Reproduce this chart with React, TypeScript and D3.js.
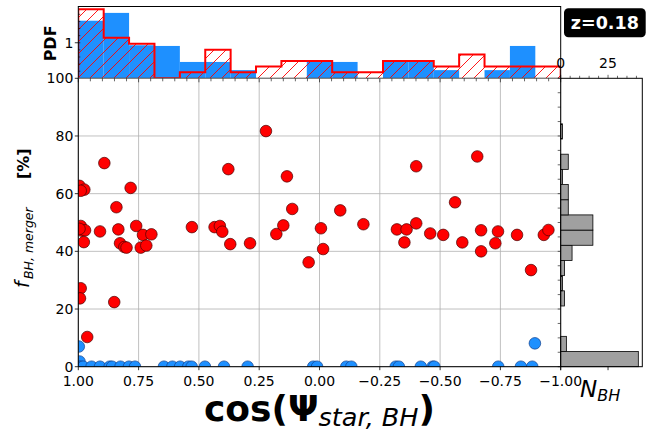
import React from 'react';
import * as d3 from 'd3';

const W = 648;
const H = 432;
const FONT = '"DejaVu Sans", sans-serif';

// top panel: PDF of cos(psi), 19 bins running from cos=1 down to cos=-1
const nBins = 19;
const blueDensity = [1.62, 1.84, 0.93, 0.91, 0.46, 0.46, 0.23, 0, 0, 0.47, 0.46, 0, 0.47, 0.47, 0.23, 0, 0.23, 0.91, 0];
const redDensity = [1.94, 1.14, 0.97, 0, 0.17, 0.8, 0.17, 0.33, 0.49, 0.49, 0.17, 0.17, 0.49, 0.49, 0.33, 0.67, 0.33, 0.33, 0.33];

// right panel: N_BH per f_merger bin (19 bins of 100/19 %, from 0 upwards)
const nbhCounts = [41, 3, 0, 0, 2, 1, 2, 6, 17, 17, 4, 4, 1, 4, 0, 1, 0, 0, 0];

// scatter: [cos(psi), f_BH,merger]
const redPoints: [number, number][] = [
  [0.995, 62.7], [0.975, 61.4], [0.99, 61.0], [0.783, 62.0], [0.892, 70.6],
  [0.378, 68.5], [0.135, 66.0], [0.222, 81.7], [0.842, 55.3], [0.113, 54.7],
  [0.99, 48.8], [0.986, 47.2], [0.972, 47.3], [0.995, 47.8], [0.91, 46.9],
  [0.834, 47.6], [0.76, 48.8], [0.977, 43.2], [0.827, 42.8], [0.809, 41.5],
  [0.8, 41.3], [0.732, 45.7], [0.697, 45.9], [0.741, 41.3], [0.718, 42.0],
  [0.529, 48.4], [0.435, 48.4], [0.413, 48.8], [0.403, 46.8], [0.37, 42.5],
  [0.288, 42.8], [0.179, 46.0], [0.15, 49.0], [0.045, 36.2], [0.99, 27.2],
  [0.993, 23.7], [0.851, 22.4], [0.963, 10.3], [-0.006, 48.0], [-0.015, 40.8],
  [-0.086, 54.2], [-0.182, 49.4], [-0.321, 47.6], [-0.361, 47.6], [-0.352, 43.1],
  [-0.401, 69.5], [-0.401, 49.7], [-0.459, 46.2], [-0.513, 45.7], [-0.562, 57.0],
  [-0.592, 43.1], [-0.654, 72.9], [-0.67, 47.3], [-0.67, 40.0], [-0.729, 42.8],
  [-0.74, 46.9], [-0.819, 45.7], [-0.877, 33.5], [-0.93, 45.7], [-0.949, 47.4],
];
const bluePoints: [number, number][] = [
  [0.998, 7.0], [0.995, 1.8], [-0.893, 8.1],
  [1.0, 0], [0.99, 0], [0.98, 0], [0.945, 0], [0.91, 0], [0.87, 0], [0.86, 0],
  [0.825, 0], [0.79, 0], [0.765, 0], [0.645, 0], [0.61, 0], [0.578, 0],
  [0.544, 0], [0.53, 0], [0.475, 0], [0.396, 0], [0.298, 0], [0.026, 0],
  [0.01, 0], [-0.111, 0], [-0.132, 0], [-0.316, 0], [-0.329, 0], [-0.42, 0],
  [-0.469, 0], [-0.476, 0], [-0.741, 0], [-0.835, 0], [-0.882, 0],
];

const xTicks = [1, 0.75, 0.5, 0.25, 0, -0.25, -0.5, -0.75, -1];
const yTicks = [0, 20, 40, 60, 80, 100];
const pdfTicks = [1];
const nbhTicks = [0, 25];

// panel boxes (px)
const main = { l: 78.3, r: 560.7, t: 78.3, b: 366.7 };
const topP = { t: 6.5, b: 78.3 };
const side = { l: 560.7, r: 642.3 };

const App: React.FC = () => {
  const x = d3.scaleLinear().domain([1, -1]).range([main.l, main.r]);
  const y = d3.scaleLinear().domain([0, 100]).range([main.b, main.t]);
  const yPdf = d3.scaleLinear().domain([0, 2.02]).range([topP.b, topP.t]);
  const xN = d3.scaleLinear().domain([0, 43.1]).range([side.l, side.r]);

  const edges = d3.range(nBins + 1).map(k => 1 - (2 * k) / nBins);
  const fEdges = d3.range(nBins + 1).map(k => (100 * k) / nBins);

  const stepPts: [number, number][] = [[edges[0], 0]];
  redDensity.forEach((v, k) => {
    stepPts.push([edges[k], v], [edges[k + 1], v]);
  });
  stepPts.push([edges[nBins], 0]);
  const stepLine = d3.line<[number, number]>().x(d => x(d[0])).y(d => yPdf(d[1]));
  const stepPath = stepLine(stepPts) || '';

  const fmt = d3.format('.2f');
  const minorX = d3.range(0, 41).map(i => 1 - i * 0.05);
  const minorY = d3.range(0, 21).map(i => i * 5);
  const minorN = d3.range(0, 9).map(i => i * 5);
  const minorPdf = d3.range(1, 10).map(i => i * 0.2);

  return (
    <svg width={W} height={H} style={{ position: 'absolute', left: 0, top: 0, background: '#fff' }} fontFamily={FONT}>
      <defs>
        <clipPath id="mainClip">
          <rect x={main.l} y={main.t} width={main.r - main.l} height={main.b - main.t} />
        </clipPath>
        <clipPath id="topClip">
          <rect x={main.l} y={topP.t} width={main.r - main.l} height={topP.b - topP.t} />
        </clipPath>
        <pattern id="hatch" patternUnits="userSpaceOnUse" width={12} height={12}>
          <path d="M-3,3 L3,-3 M0,12 L12,0 M9,15 L15,9" stroke="#ff0000" strokeWidth={0.9} />
        </pattern>
      </defs>

      {/* ---------- top PDF panel ---------- */}
      <g clipPath="url(#topClip)">
        {blueDensity.map((v, k) => (
          v > 0 ? (
            <rect key={k} x={x(edges[k])} y={yPdf(v)} width={x(edges[k + 1]) - x(edges[k])}
              height={yPdf(0) - yPdf(v)} fill="#1e90ff" />
          ) : null
        ))}
        <path d={stepPath + 'Z'} fill="url(#hatch)" stroke="none" />
        <path d={stepPath} fill="none" stroke="#ff0000" strokeWidth={2} strokeLinejoin="miter" />
      </g>
      <rect x={main.l} y={topP.t} width={main.r - main.l} height={topP.b - topP.t} fill="none" stroke="#000" strokeWidth={1} />
      {minorPdf.map(v => (
        <line key={'mp' + v} x1={main.l} x2={main.l + 2} y1={yPdf(v)} y2={yPdf(v)} stroke="#000" strokeWidth={0.6} />
      ))}
      {pdfTicks.map(v => (
        <g key={'pt' + v}>
          <line x1={main.l - 3.5} x2={main.l} y1={yPdf(v)} y2={yPdf(v)} stroke="#000" strokeWidth={0.8} />
          <text x={main.l - 5} y={yPdf(v)} dy="0.36em" textAnchor="end" fontSize={14}>{v}</text>
        </g>
      ))}
      <text transform={`translate(56,${(topP.t + topP.b) / 2 + 1}) rotate(-90)`} textAnchor="middle"
        fontSize={16} fontWeight="bold">PDF</text>

      {/* ---------- main scatter ---------- */}
      {xTicks.map(v => (
        <line key={'gx' + v} x1={x(v)} x2={x(v)} y1={main.t} y2={main.b} stroke="#b0b0b0" strokeWidth={0.8} />
      ))}
      {yTicks.map(v => (
        <line key={'gy' + v} x1={main.l} x2={main.r} y1={y(v)} y2={y(v)} stroke="#b0b0b0" strokeWidth={0.8} />
      ))}
      <g clipPath="url(#mainClip)">
        {bluePoints.map((p, i) => (
          <circle key={'b' + i} cx={x(p[0])} cy={y(p[1])} r={5.8} fill="#1e90ff" stroke="#12408c" strokeWidth={0.7} />
        ))}
        {redPoints.map((p, i) => (
          <circle key={'r' + i} cx={x(p[0])} cy={y(p[1])} r={5.8} fill="#ff0000" stroke="#4a0000" strokeWidth={0.7} />
        ))}
      </g>
      {minorX.map(v => (
        <line key={'mx' + v} x1={x(v)} x2={x(v)} y1={main.t} y2={main.t + (Math.abs(v * 4 - Math.round(v * 4)) < 1e-6 ? 4 : 3)}
          stroke="#000" strokeWidth={0.6} />
      ))}
      <line x1={main.l} x2={main.l} y1={main.t} y2={main.b} stroke="#000" strokeWidth={1} />
      <line x1={main.l} x2={main.r} y1={main.b} y2={main.b} stroke="#000" strokeWidth={1} />
      {xTicks.map(v => (
        <g key={'xt' + v}>
          <line x1={x(v)} x2={x(v)} y1={main.b} y2={main.b + 3.5} stroke="#000" strokeWidth={0.8} />
          <text x={x(v)} y={main.b + 19.5} textAnchor="middle" fontSize={14}>{fmt(v)}</text>
        </g>
      ))}
      {yTicks.map(v => (
        <g key={'yt' + v}>
          <line x1={main.l - 3.5} x2={main.l} y1={y(v)} y2={y(v)} stroke="#000" strokeWidth={0.8} />
          <text x={main.l - 5} y={y(v)} dy="0.36em" textAnchor="end" fontSize={14}>{v}</text>
        </g>
      ))}

      {/* y label */}
      <g transform="translate(29,218) rotate(-90)">
        <text x={-70} y={0} fontSize={19} fontStyle="italic">f</text>
        <text x={-61} y={3.5} fontSize={12.5} fontStyle="italic">BH, merger</text>
        <text x={39} y={0} fontSize={16} fontWeight="bold">[%]</text>
      </g>

      {/* x label */}
      <text x={(main.l + main.r) / 2} y={421} textAnchor="middle" fontWeight="bold" fontSize={36}>
        <tspan>cos(Ψ</tspan>
        <tspan dy={5} fontSize={25.5} fontWeight="normal" fontStyle="italic">star, BH</tspan>
        <tspan dy={-5}>)</tspan>
      </text>

      {/* ---------- right N_BH panel ---------- */}
      {nbhCounts.map((c, k) => (
        c > 0 ? (
          <rect key={'n' + k} x={xN(0)} y={y(fEdges[k + 1])} width={xN(c) - xN(0)}
            height={y(fEdges[k]) - y(fEdges[k + 1])} fill="#a0a0a0" stroke="#000" strokeWidth={0.8} />
        ) : null
      ))}
      <rect x={side.l} y={main.t} width={side.r - side.l} height={main.b - main.t} fill="none" stroke="#000" strokeWidth={1} />
      {minorY.map(v => (
        <line key={'my' + v} x1={side.l - 3} x2={side.l} y1={y(v)} y2={y(v)} stroke="#000" strokeWidth={0.6} />
      ))}
      {minorN.map(v => (
        <line key={'mn' + v} x1={xN(v)} x2={xN(v)} y1={main.t - (v % 25 === 0 ? 3.5 : 2.5)} y2={main.t}
          stroke="#000" strokeWidth={0.6} />
      ))}
      {nbhTicks.map(v => (
        <g key={'nt' + v}>
          <line x1={xN(v)} x2={xN(v)} y1={main.b} y2={main.b + 3.5} stroke="#000" strokeWidth={0.8} />
          <text x={xN(v)} y={68} textAnchor="middle" fontSize={14}>{v}</text>
        </g>
      ))}
      <text x={580} y={397} fontSize={23} fontStyle="italic">
        <tspan>N</tspan>
        <tspan dy={4} fontSize={16}>BH</tspan>
      </text>

      {/* redshift tag */}
      <rect x={564} y={8.3} width={81.7} height={29} rx={4.5} fill="#000" />
      <text x={604.8} y={29.3} textAnchor="middle" fontSize={17.5} fontWeight="bold" fill="#fff">z=0.18</text>
    </svg>
  );
};

export default App;
